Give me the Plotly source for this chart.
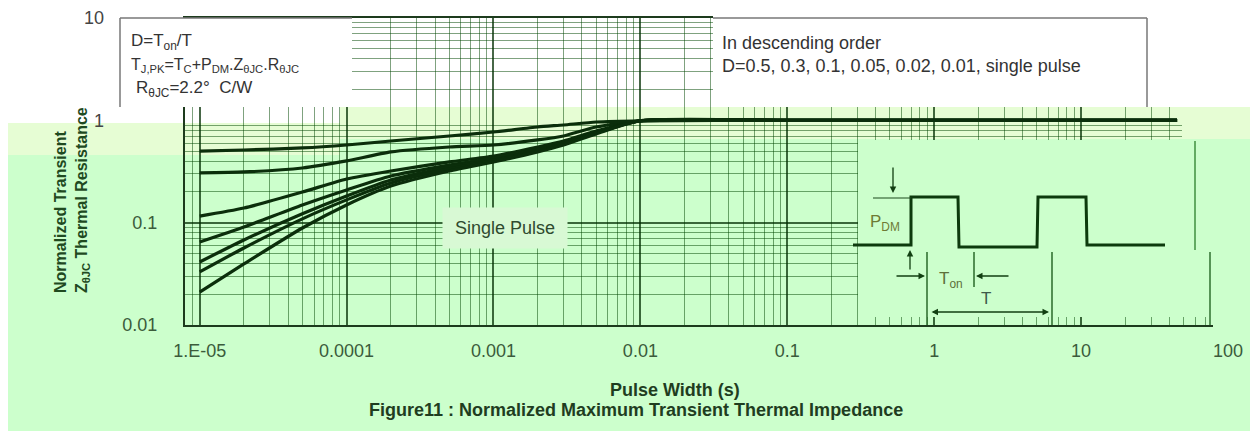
import plotly.graph_objects as go

# ---------------- data ----------------
pulse_width_s = [1e-5, 2e-5, 5e-5, 1e-4, 2e-4, 5e-4, 1e-3, 2e-3, 3e-3, 5e-3, 1e-2, 0.1, 1, 10, 45]

series_names = ["D=0.5", "D=0.3", "D=0.1", "D=0.05", "D=0.02", "D=0.01", "Single Pulse"]
z_d050 = [0.500, 0.513, 0.537, 0.574, 0.628, 0.703, 0.769, 0.861, 0.901, 0.963, 0.99, 1.0, 1.0, 1.0, 1.0]
z_d030 = [0.306, 0.313, 0.342, 0.401, 0.491, 0.549, 0.574, 0.643, 0.703, 0.861, 0.99, 1.0, 1.0, 1.0, 1.0]
z_d010 = [0.116, 0.139, 0.199, 0.267, 0.320, 0.392, 0.448, 0.549, 0.628, 0.787, 0.99, 1.0, 1.0, 1.0, 1.0]
z_d005 = [0.0647, 0.0907, 0.149, 0.209, 0.286, 0.366, 0.429, 0.525, 0.614, 0.769, 0.99, 1.0, 1.0, 1.0, 1.0]
z_d002 = [0.0413, 0.0677, 0.122, 0.182, 0.261, 0.350, 0.410, 0.513, 0.601, 0.752, 0.99, 1.0, 1.0, 1.0, 1.0]
z_d001 = [0.0330, 0.0566, 0.109, 0.167, 0.244, 0.335, 0.401, 0.502, 0.587, 0.752, 0.99, 1.0, 1.0, 1.0, 1.0]
z_single = [0.0210, 0.0395, 0.0887, 0.149, 0.228, 0.320, 0.392, 0.491, 0.574, 0.736, 0.99, 1.0, 1.0, 1.0, 1.0]

x_tick_vals = [1e-5, 1e-4, 1e-3, 1e-2, 0.1, 1, 10, 100]
x_tick_text = ["1.E-05", "0.0001", "0.001", "0.01", "0.1", "1", "10", "100"]
y_tick_vals_low = [0.01, 0.1]
y_tick_text_low = ["0.01", "0.1"]
y_tick_vals_high = [1, 10]
y_tick_text_high = ["1", "10"]

x_minor = [k * 10.0 ** n for n in range(-6, 2) for k in range(2, 10) if 10 ** -5.1 <= k * 10.0 ** n <= 100]
y_minor = [k * 10.0 ** n for n in range(-2, 1) for k in range(2, 10)]

# ---------------- geometry helpers (screen pixel -> paper) ----------------
OFF = 8                      # page body margin
SCREEN_W, SCREEN_H = 1258, 431
W, H = SCREEN_W - OFF, SCREEN_H - OFF
L, R, T, B = 185, 1228, 18, 325   # plot area edges in screen pixels


def px(x):
    return (x - L) / (R - L)


def py(y):
    return (B - y) / (B - T)


BG = "#ccffcc"
BAND = "#e6fdd4"
CURVE = "#0b2e0b"
TXT = "#2f4a2f"
FONT = "Liberation Sans, Arial, sans-serif"

fig = go.Figure()
all_z = [z_d050, z_d030, z_d010, z_d005, z_d002, z_d001, z_single]
for i, (name, z) in enumerate(zip(series_names, all_z)):
    fig.add_trace(go.Scatter(
        x=pulse_width_s, y=z, mode="lines", name=name,
        line=dict(color=CURVE, width=3.2, shape="spline", smoothing=0.6),
        yaxis="y2" if i == 0 else "y",
        showlegend=False, hoverinfo="skip",
    ))

shapes = []


def rect(x0, y0, x1, y1, fill, layer="above"):
    shapes.append(dict(type="rect", xref="paper", yref="paper",
                       x0=px(x0), x1=px(x1), y0=py(y1), y1=py(y0),
                       fillcolor=fill, layer=layer, line=dict(width=0)))


def seg(x0, y0, x1, y1, color="#1c4a1c", width=1.5, layer="above"):
    shapes.append(dict(type="line", xref="paper", yref="paper",
                       x0=px(x0), y0=py(y0), x1=px(x1), y1=py(y1),
                       line=dict(color=color, width=width), layer=layer))


# background regions (below the grid)
rect(-20, -20, 1280, 107, "white", layer="below")
rect(-20, 107, 340, 123, "white", layer="below")
rect(-20, 123, 340, 155, BAND, layer="below")
rect(340, 107, 1280, 139, BAND, layer="below")

# top text boxes (white, above the grid)
rect(120, 18, 352, 107, "white")
seg(120, 18, 352, 18, color="#777777", width=1.5)
seg(120, 18, 120, 107, color="#777777", width=1.5)
rect(713, 0, 1280, 107, "white")
seg(713, 18, 1147, 18, color="#777777", width=1.5)
seg(1147, 18, 1147, 107, color="#777777", width=1.5)

# blank inset area (no grid) and the plain right edge
rect(858, 140, 1226, 317, BG)
rect(1182, 107, 1280, 139, BAND)
rect(1182, 139, 1280, 250, BG)
rect(1213, 250, 1280, 330, BG)
seg(1195, 141, 1195, 250, color="#3f8f3f", width=1.5)
seg(1210, 252, 1210, 325, color="#2f6f2f", width=1.5)

# pulse waveform diagram
wave = [(853, 245), (911, 245), (911, 197), (958, 197), (959, 247), (1037, 247),
        (1038, 197), (1086, 197), (1087, 245), (1165, 245)]
path = "M " + " L ".join(f"{px(a):.5f},{py(b):.5f}" for a, b in wave)
shapes.append(dict(type="path", xref="paper", yref="paper", path=path,
                   line=dict(color="#0d3a0d", width=3), layer="above"))
seg(873, 198, 911, 198, color="#1c4a1c", width=1.2)
seg(927, 252, 927, 325, color="#2a6a2a", width=1.5)
seg(974, 252, 974, 287, color="#2a6a2a", width=1.5)
seg(1052, 252, 1052, 325, color="#2a6a2a", width=1.5)

annotations = []


def arrow(xh, yh, xt, yt, both=False):
    annotations.append(dict(
        xref="paper", yref="paper", x=px(xh), y=py(yh), ax=xt - xh, ay=yt - yh,
        axref="pixel", ayref="pixel", text="", showarrow=True,
        arrowhead=2, arrowsize=1, arrowwidth=1.3, arrowcolor="#123f12",
        arrowside="end+start" if both else "end", startarrowhead=2, startarrowsize=1,
    ))


arrow(893, 193, 893, 166)
arrow(910, 250, 910, 271)
arrow(925, 276, 895, 276)
arrow(976, 276, 1010, 276)
arrow(1049, 312, 930, 312, both=True)


def label(text, x, y, size=14, color="#333333", xanchor="left", bold=False, **kw):
    t = f"<b>{text}</b>" if bold else text
    d = dict(xref="paper", yref="paper", x=px(x), y=py(y), text=t, showarrow=False,
             xanchor=xanchor, yanchor="middle",
             font=dict(family=FONT, size=size, color=color))
    d.update(kw)
    annotations.append(d)


label("D=T<sub>on</sub>/T", 129, 42, size=17)
label("T<sub>J,PK</sub>=T<sub>C</sub>+P<sub>DM</sub>.Z<sub>θJC</sub>.R<sub>θJC</sub>", 129, 66, size=16)
label("R<sub>θJC</sub>=2.2°  C/W", 134, 89, size=17)
label("In descending order", 720, 43, size=18)
label("D=0.5, 0.3, 0.1, 0.05, 0.02, 0.01, single pulse", 720, 66, size=18)
label("Single Pulse", 505, 228, size=18, color=TXT, xanchor="center",
      bgcolor="#d8f9d4", width=122, height=38)
label("P<sub>DM</sub>", 885, 223, size=17, color="#6e7a34", xanchor="center")
label("T<sub>on</sub>", 951, 280, size=17, color="#5d703a", xanchor="center")
label("T", 986, 298, size=17, color="#3e5a4a", xanchor="center")
label("Pulse Width (s)", 675, 390, size=18, color="#1f3d1f", xanchor="center", bold=True)
label("Figure11 : Normalized Maximum Transient Thermal Impedance", 636, 410, size=18,
      color="#1f3d1f", xanchor="center", bold=True)
annotations.append(dict(
    xref="paper", yref="paper", x=px(72), y=py(295), xanchor="center", yanchor="bottom",
    textangle=-90, align="left", showarrow=False,
    text="<b>Normalized Transient<br>Z<sub>θJC</sub> Thermal Resistance</b>",
    font=dict(family=FONT, size=16, color="#1f4a1f"),
))

major_grid = "rgba(0,45,0,0.72)"
minor_grid = "rgba(0,70,0,0.50)"
tick_font = dict(family=FONT, size=18, color="#3b5b3b")

fig.update_layout(
    width=W, height=H, autosize=False,
    margin=dict(l=L - OFF, r=SCREEN_W - R, t=T - OFF, b=SCREEN_H - B, pad=0, autoexpand=False),
    paper_bgcolor=BG, plot_bgcolor="rgba(0,0,0,0)",
    shapes=shapes, annotations=annotations, showlegend=False,
    xaxis=dict(
        type="log", range=[-5.1, 2], tickvals=x_tick_vals, ticktext=x_tick_text,
        tickfont=tick_font, ticks="", ticklabelstandoff=8, automargin=False,
        showgrid=True, gridcolor=major_grid, gridwidth=1.5,
        minor=dict(tickvals=x_minor, showgrid=True, gridcolor=minor_grid, gridwidth=1.2, ticks=""),
        showline=True, mirror=True, linecolor="#1d3b1d", linewidth=2, zeroline=False,
    ),
    yaxis=dict(
        type="log", range=[-2, 1], tickvals=y_tick_vals_low, ticktext=y_tick_text_low,
        tickfont=tick_font, ticks="", ticklabelstandoff=22, automargin=False,
        showgrid=True, gridcolor=major_grid, gridwidth=1.5,
        minor=dict(tickvals=y_minor, showgrid=True, gridcolor=minor_grid, gridwidth=1.2, ticks=""),
        showline=True, mirror=True, linecolor="#1d3b1d", linewidth=2, zeroline=False,
    ),
    yaxis2=dict(
        type="log", range=[-2, 1], overlaying="y", side="left", automargin=False,
        tickvals=y_tick_vals_high, ticktext=y_tick_text_high,
        tickfont=dict(family=FONT, size=18, color="#444444"), ticks="", ticklabelstandoff=80,
        showgrid=False, showline=False, zeroline=False,
    ),
)

fig.write_html("out.html")
